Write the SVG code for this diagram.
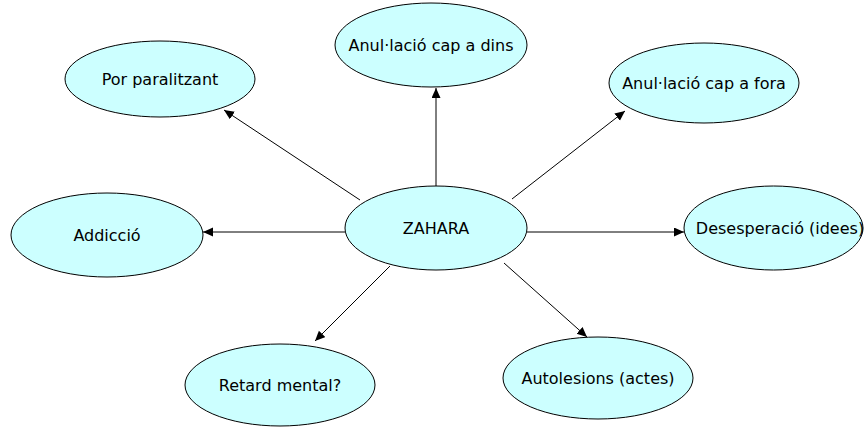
<svg xmlns="http://www.w3.org/2000/svg" width="865" height="427" viewBox="0 0 865 427">
<style>
.node ellipse{fill:#ccffff;stroke:#000;stroke-width:1}
.node text{font-family:"DejaVu Sans",Verdana,sans-serif;font-size:16px;fill:#000;text-anchor:middle}
.conn line{stroke:#000;stroke-width:1}
</style>
<defs>
<marker id="arr" markerUnits="userSpaceOnUse" markerWidth="12" markerHeight="10" refX="10" refY="4.5" orient="auto">
<path d="M0,0 L10,4.5 L0,9 Z" fill="#000"/>
</marker>
</defs>
<rect width="865" height="427" fill="#fff"/>
<g id="connectors" class="conn">
<line x1="436" y1="186" x2="436" y2="88" marker-end="url(#arr)"/>
<line x1="360" y1="200" x2="224" y2="110" marker-end="url(#arr)"/>
<line x1="512" y1="199" x2="625" y2="111" marker-end="url(#arr)"/>
<line x1="345" y1="232" x2="203" y2="232" marker-end="url(#arr)"/>
<line x1="527" y1="232" x2="684" y2="232" marker-end="url(#arr)"/>
<line x1="390" y1="266" x2="315" y2="341" marker-end="url(#arr)"/>
<line x1="504" y1="263" x2="587" y2="337" marker-end="url(#arr)"/>
</g>
<g id="zahara" class="node"><ellipse cx="436" cy="228" rx="91" ry="42"/><text x="436" y="234">ZAHARA</text></g>
<g id="dins" class="node"><ellipse cx="431" cy="45" rx="96" ry="42"/><text x="431" y="51">Anul·lació cap a dins</text></g>
<g id="por" class="node"><ellipse cx="160" cy="79" rx="95" ry="38"/><text x="160" y="85">Por paralitzant</text></g>
<g id="fora" class="node"><ellipse cx="704" cy="83" rx="95" ry="40"/><text x="704" y="89">Anul·lació cap a fora</text></g>
<g id="addiccio" class="node"><ellipse cx="107" cy="235" rx="96" ry="42"/><text x="107" y="241">Addicció</text></g>
<g id="desesperacio" class="node"><ellipse cx="773.5" cy="228" rx="89.5" ry="42"/><text x="780" y="234">Desesperació (idees)</text></g>
<g id="retard" class="node"><ellipse cx="280" cy="385" rx="95" ry="41"/><text x="280" y="391">Retard mental?</text></g>
<g id="autolesions" class="node"><ellipse cx="598" cy="378" rx="95" ry="41"/><text x="598" y="384">Autolesions (actes)</text></g>
</svg>
